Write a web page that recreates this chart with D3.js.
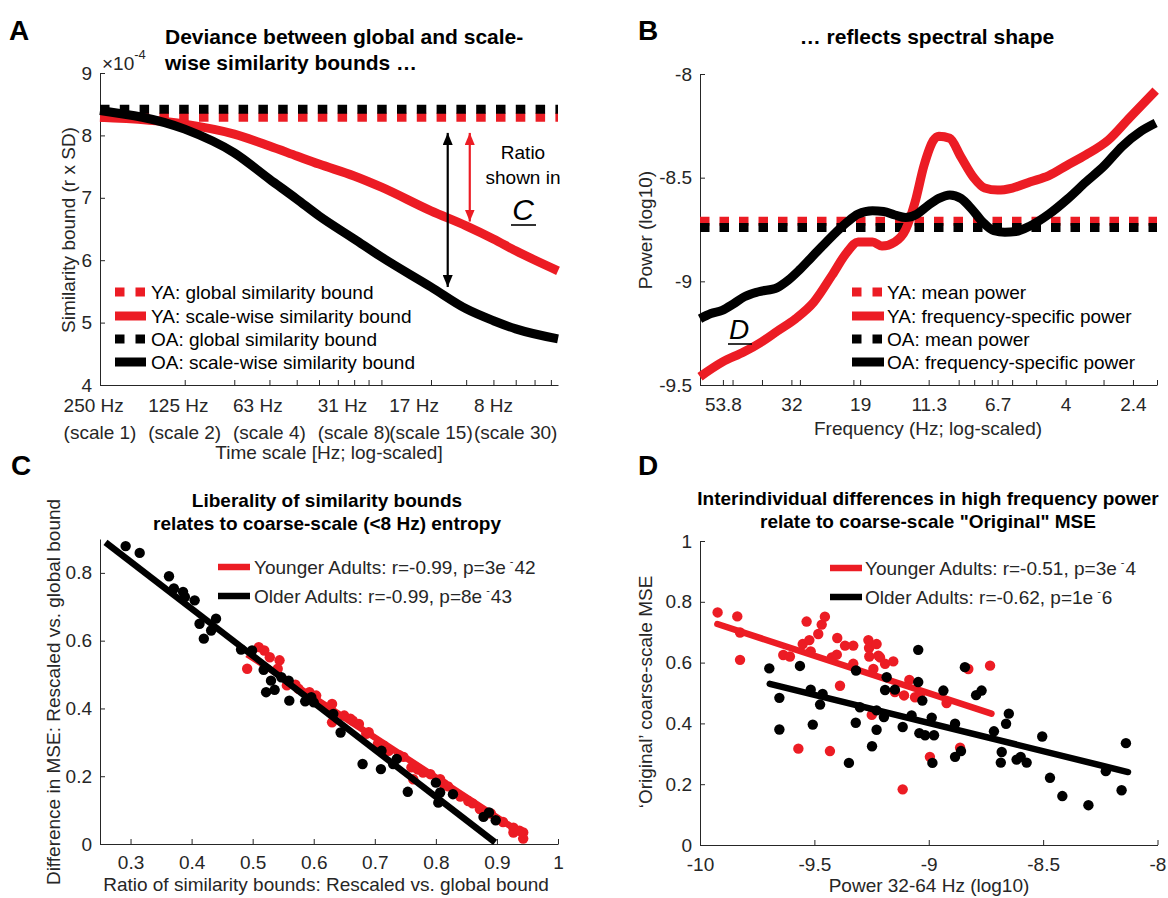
<!DOCTYPE html>
<html><head><meta charset="utf-8">
<script src="https://cdn.jsdelivr.net/npm/d3@7"></script>
<style>body{margin:0;background:#fff}svg{display:block}</style>
</head><body><svg id="c" width="1168" height="898"></svg>
<script>
// ---------------- DATA ----------------
// Panel A
const aScale   = [1, 2, 3, 4, 5, 6, 8, 10, 15, 20, 25, 30, 42.4];
const aBoundYA = [8.29, 8.18, 8.02, 7.83, 7.67, 7.54, 7.35, 7.17, 6.79, 6.55, 6.34, 6.15, 5.83];
const aBoundOA = [8.40, 8.10, 7.72, 7.30, 6.98, 6.71, 6.34, 6.05, 5.57, 5.22, 5.03, 4.90, 4.74];
const aGlobalYA = 8.29, aGlobalOA = 8.42;
const aTickScales = [1, 2, 4, 8, 15, 30];
const aTickHz = ["250 Hz", "125 Hz", "63 Hz", "31 Hz", "17 Hz", "8 Hz"];
const aTickScaleNames = ["(scale 1)", "(scale 2)", "(scale 4)", "(scale 8)", "(scale 15)", "(scale 30)"];
const aMinorScales = [3, 5, 6, 7, 9, 10, 20, 25, 35, 40];
const aYTicks = [4, 5, 6, 7, 8, 9];
const aArrowOA = {scale: 17.2, from: 8.04, to: 5.57};
const aArrowYA = {scale: 20.6, from: 8.04, to: 6.62};
const aLegend = ["YA: global similarity bound", "YA: scale-wise similarity bound", "OA: global similarity bound", "OA: scale-wise similarity bound"];

// Panel B
const bFreqYA = [64, 54.1, 45.8, 39.9, 35.6, 31.0, 27.0, 23.5, 21.0, 19.3, 17.3, 16.1, 14.6, 13.45, 12.54, 11.7, 10.9, 10.46, 9.63, 8.85, 8.03, 7.39, 6.70, 5.99, 5.22, 4.54, 3.95, 3.43, 2.90, 2.46, 2.02];
const bPowYA  = [-9.46, -9.39, -9.34, -9.29, -9.24, -9.18, -9.10, -8.97, -8.86, -8.81, -8.81, -8.83, -8.81, -8.75, -8.62, -8.44, -8.32, -8.30, -8.31, -8.40, -8.50, -8.55, -8.56, -8.55, -8.52, -8.49, -8.44, -8.39, -8.32, -8.21, -8.08];
const bFreqOA = [64, 58.9, 54.1, 49.8, 45.8, 41.0, 35.6, 32.8, 30.2, 27.7, 25.5, 22.8, 21.0, 19.3, 17.3, 15.9, 14.6, 13.45, 12.37, 11.39, 10.46, 9.63, 8.85, 8.14, 7.49, 6.89, 6.34, 5.83, 5.22, 4.54, 3.95, 3.43, 2.99, 2.60, 2.26, 2.02];
const bPowOA  = [-9.18, -9.155, -9.14, -9.11, -9.075, -9.05, -9.03, -8.995, -8.947, -8.89, -8.835, -8.763, -8.715, -8.676, -8.66, -8.663, -8.68, -8.692, -8.676, -8.636, -8.60, -8.583, -8.60, -8.652, -8.715, -8.756, -8.763, -8.76, -8.732, -8.676, -8.604, -8.521, -8.444, -8.348, -8.276, -8.236];
const bMeanYA = -8.71, bMeanOA = -8.74;
const bTickFreqs = [53.8, 32, 19, 11.3, 6.7, 4, 2.4];
const bMinorFreqs = [50, 40, 30, 20, 9, 8, 7, 6, 5, 3, 2];
const bYTicks = [-9.5, -9, -8.5, -8];
const bLegend = ["YA: mean power", "YA: frequency-specific power", "OA: mean power", "OA: frequency-specific power"];

// Panel C
const cRatioYA = [0.491, 0.51, 0.519, 0.528, 0.544, 0.541, 0.556, 0.57, 0.575, 0.593, 0.604, 0.618, 0.63, 0.63, 0.65, 0.66, 0.664, 0.674, 0.686, 0.69, 0.705, 0.715, 0.723, 0.74, 0.747, 0.76, 0.763, 0.77, 0.779, 0.791, 0.807, 0.813, 0.82, 0.84, 0.853, 0.86, 0.872, 0.89, 0.91, 0.927, 0.937, 0.943, 0.943, 0.927];
const cDiffYA  = [0.517, 0.581, 0.571, 0.551, 0.542, 0.517, 0.468, 0.47, 0.458, 0.448, 0.438, 0.403, 0.413, 0.359, 0.379, 0.37, 0.364, 0.354, 0.325, 0.33, 0.295, 0.29, 0.275, 0.262, 0.257, 0.226, 0.191, 0.22, 0.211, 0.206, 0.191, 0.177, 0.17, 0.14, 0.127, 0.12, 0.103, 0.09, 0.065, 0.048, 0.039, 0.034, 0.016, 0.034];
const cRatioOA = [0.292, 0.315, 0.363, 0.371, 0.386, 0.389, 0.405, 0.413, 0.42, 0.432, 0.44, 0.481, 0.499, 0.518, 0.522, 0.53, 0.536, 0.547, 0.559, 0.56, 0.586, 0.596, 0.6, 0.632, 0.644, 0.68, 0.71, 0.711, 0.73, 0.736, 0.754, 0.80, 0.804, 0.807, 0.828, 0.878, 0.887, 0.898];
const cDiffOA  = [0.879, 0.859, 0.790, 0.754, 0.744, 0.729, 0.719, 0.650, 0.606, 0.630, 0.665, 0.574, 0.571, 0.514, 0.448, 0.482, 0.455, 0.492, 0.482, 0.423, 0.421, 0.433, 0.418, 0.384, 0.329, 0.236, 0.221, 0.275, 0.236, 0.251, 0.154, 0.181, 0.122, 0.152, 0.147, 0.080, 0.093, 0.070];
const cFitYA = {x: [0.491, 0.945], y: [0.56, 0.026]};
const cFitOA = {x: [0.259, 0.897], y: [0.89, 0.005]};
const cXTicks = [0.3, 0.4, 0.5, 0.6, 0.7, 0.8, 0.9, 1];
const cYTicks = [0, 0.2, 0.4, 0.6, 0.8];
const cLegend = [["Younger Adults: r=-0.99, p=3e", "42"], ["Older Adults: r=-0.99, p=8e", "43"]];

// Panel D
const dPowYA = [-9.923, -9.837, -9.825, -9.825, -9.636, -9.607, -9.570, -9.551, -9.534, -9.522, -9.516, -9.483, -9.468, -9.454, -9.432, -9.424, -9.402, -9.400, -9.388, -9.366, -9.330, -9.330, -9.264, -9.261, -9.260, -9.249, -9.242, -9.228, -9.220, -9.213, -9.191, -9.155, -9.148, -9.114, -9.108, -9.085, -9.060, -9.038, -8.995, -8.922, -8.863, -8.827, -8.732];
const dMseYA = [0.765, 0.752, 0.699, 0.609, 0.625, 0.620, 0.317, 0.661, 0.735, 0.674, 0.637, 0.694, 0.725, 0.751, 0.309, 0.617, 0.626, 0.681, 0.524, 0.656, 0.656, 0.596, 0.674, 0.648, 0.620, 0.428, 0.579, 0.661, 0.623, 0.617, 0.596, 0.604, 0.503, 0.183, 0.492, 0.543, 0.486, 0.497, 0.290, 0.467, 0.320, 0.579, 0.590];
const dPowOA = [-9.697, -9.653, -9.653, -9.563, -9.516, -9.507, -9.475, -9.464, -9.349, -9.319, -9.318, -9.301, -9.248, -9.228, -9.228, -9.196, -9.191, -9.184, -9.148, -9.114, -9.075, -9.046, -9.046, -9.041, -9.028, -9.016, -8.987, -8.984, -8.977, -8.936, -8.885, -8.885, -8.859, -8.842, -8.793, -8.769, -8.715, -8.685, -8.681, -8.662, -8.650, -8.616, -8.598, -8.572, -8.504, -8.470, -8.416, -8.302, -8.226, -8.157, -8.138];
const dMseOA = [0.581, 0.484, 0.380, 0.589, 0.511, 0.396, 0.462, 0.497, 0.270, 0.402, 0.574, 0.453, 0.325, 0.379, 0.443, 0.421, 0.510, 0.552, 0.511, 0.388, 0.426, 0.642, 0.536, 0.368, 0.475, 0.361, 0.419, 0.270, 0.361, 0.508, 0.399, 0.290, 0.309, 0.585, 0.493, 0.508, 0.374, 0.271, 0.306, 0.399, 0.432, 0.281, 0.290, 0.271, 0.357, 0.221, 0.161, 0.131, 0.243, 0.180, 0.335];
const dFitYA = {x: [-9.924, -8.726], y: [0.727, 0.432]};
const dFitOA = {x: [-9.695, -8.129], y: [0.530, 0.240]};
const dXTicks = [-10, -9.5, -9, -8.5, -8];
const dYTicks = [0, 0.2, 0.4, 0.6, 0.8, 1];
const dLegend = [["Younger Adults: r=-0.51, p=3e", "4"], ["Older Adults: r=-0.62, p=1e", "6"]];

// ---------------- STYLE ----------------
const FF = '"Liberation Sans", Arial, Helvetica, sans-serif';
const RED = "#ec1c24", BLK = "#000000", AX = "#262626";
const FS = 19;

const svg = d3.select("#c");
svg.append("rect").attr("width", 1168).attr("height", 898).attr("fill", "#fff");
const defs = svg.append("defs");
function arrowMarker(id, color) {
  defs.append("marker").attr("id", id).attr("viewBox", "0 0 12 10")
    .attr("refX", 12).attr("refY", 5).attr("markerWidth", 12).attr("markerHeight", 10)
    .attr("markerUnits", "userSpaceOnUse").attr("orient", "auto-start-reverse")
    .append("path").attr("d", "M0,0L12,5L0,10z").attr("fill", color);
}
arrowMarker("arrK", BLK); arrowMarker("arrR", RED);

function styleAxis(g) {
  g.attr("font-family", null).attr("font-size", null);
  g.select(".domain").attr("stroke", AX).attr("stroke-width", 1);
  g.selectAll(".tick line").attr("stroke", AX);
  g.selectAll(".tick text").attr("fill", AX).style("font-size", FS + "px").style("font-family", FF);
}
function leftAxis(y, x0, ticks, fmt) {
  const g = svg.append("g").attr("transform", `translate(${x0},0)`)
    .call(d3.axisLeft(y).tickValues(ticks).tickFormat(fmt).tickSize(-5).tickSizeOuter(0).tickPadding(8));
  styleAxis(g); return g;
}
function bottomAxis(x, y0, ticks, fmt, pad) {
  const g = svg.append("g").attr("transform", `translate(0,${y0})`)
    .call(d3.axisBottom(x).tickValues(ticks).tickFormat(fmt).tickSize(-5).tickSizeOuter(0).tickPadding(pad));
  styleAxis(g); return g;
}
function txt(x, y, s, o = {}) {
  const t = svg.append("text").attr("x", x).attr("y", y).text(s)
    .attr("font-family", FF).attr("font-size", o.size || FS)
    .attr("fill", o.fill || AX).attr("text-anchor", o.anchor || "middle")
    .attr("dominant-baseline", "central");
  if (o.bold) t.attr("font-weight", "bold");
  if (o.italic) t.attr("font-style", "italic");
  if (o.rotate) t.attr("transform", `rotate(-90,${x},${y})`);
  return t;
}
function panelLetter(x, y, s) {
  svg.append("text").attr("x", x).attr("y", y).text(s).attr("font-family", FF)
    .attr("font-size", 28).attr("font-weight", "bold").attr("fill", "#000");
}
function legendLine(x1, x2, y, color, w, dashed) {
  const l = svg.append("line").attr("x1", x1).attr("x2", x2).attr("y1", y).attr("y2", y)
    .attr("stroke", color).attr("stroke-width", w);
  if (dashed) l.attr("stroke-dasharray", "9.5,11");
}
function legendSup(x, y, parts) {
  const t = svg.append("text").attr("x", x).attr("y", y).attr("font-family", FF)
    .attr("font-size", FS).attr("fill", AX).attr("dominant-baseline", "central");
  t.append("tspan").text(parts[0]);
  t.append("tspan").attr("dx", 4).attr("dy", -6).attr("font-size", 11).text("-");
  t.append("tspan").attr("dx", 1).attr("dy", 6).text(parts[1]);
}

// ---------------- PANEL A ----------------
const xA = d3.scaleLog().domain([1, 42.4]).range([100, 558]);
const yA = d3.scaleLinear().domain([4, 9]).range([385, 73]);
panelLetter(9, 40, "A");
txt(165, 36, "Deviance between global and scale-", {bold: true, size: 21, anchor: "start", fill: "#000"});
txt(165, 62, "wise similarity bounds \u2026", {bold: true, size: 21, anchor: "start", fill: "#000"});
const expT = svg.append("text").attr("x", 102).attr("y", 63).attr("font-family", FF).attr("font-size", FS)
  .attr("fill", AX).attr("dominant-baseline", "central");
expT.append("tspan").text("\u00d710");
expT.append("tspan").attr("dy", -9).attr("font-size", 13).text("-4");

leftAxis(yA, 100, aYTicks, d3.format("d"));
bottomAxis(xA, 385, aTickScales.concat(aMinorScales), () => "", 12);
// two-line tick labels, block centred on tick, lines left-aligned
aTickScales.forEach((s, i) => {
  const t2 = txt(0, 432, aTickScaleNames[i], {anchor: "start"});
  const w = t2.node().getComputedTextLength();
  const left = xA(s) - w / 2;
  t2.attr("x", left);
  txt(left, 405, aTickHz[i], {anchor: "start"});
});
txt(329, 452, "Time scale [Hz; log-scaled]");
txt(68, 230, "Similarity bound (r x SD)", {rotate: true});

const lineA = d3.line().curve(d3.curveMonotoneX);
svg.append("line").attr("x1", xA.range()[0]).attr("x2", xA.range()[1]).attr("y1", yA(aGlobalYA)).attr("y2", yA(aGlobalYA))
  .attr("stroke", RED).attr("stroke-width", 9).attr("stroke-dasharray", "9.5,10.3");
svg.append("line").attr("x1", xA.range()[0]).attr("x2", xA.range()[1]).attr("y1", yA(aGlobalOA)).attr("y2", yA(aGlobalOA))
  .attr("stroke", BLK).attr("stroke-width", 9).attr("stroke-dasharray", "9.5,10.3");
svg.append("path").attr("d", lineA(aScale.map((s, i) => [xA(s), yA(aBoundYA[i])])))
  .attr("fill", "none").attr("stroke", RED).attr("stroke-width", 9);
svg.append("path").attr("d", lineA(aScale.map((s, i) => [xA(s), yA(aBoundOA[i])])))
  .attr("fill", "none").attr("stroke", BLK).attr("stroke-width", 9);
// arrows
svg.append("line").attr("x1", xA(aArrowOA.scale)).attr("x2", xA(aArrowOA.scale))
  .attr("y1", yA(aArrowOA.from)).attr("y2", yA(aArrowOA.to)).attr("stroke", BLK).attr("stroke-width", 2.2)
  .attr("marker-start", "url(#arrK)").attr("marker-end", "url(#arrK)");
svg.append("line").attr("x1", xA(aArrowYA.scale)).attr("x2", xA(aArrowYA.scale))
  .attr("y1", yA(aArrowYA.from)).attr("y2", yA(aArrowYA.to)).attr("stroke", RED).attr("stroke-width", 2.2)
  .attr("marker-start", "url(#arrR)").attr("marker-end", "url(#arrR)");
txt(523, 152, "Ratio", {fill: "#000"});
txt(523, 177, "shown in", {fill: "#000"});
txt(523, 209, "C", {italic: true, size: 30, fill: "#000"});
svg.append("line").attr("x1", 511).attr("x2", 536).attr("y1", 225).attr("y2", 225).attr("stroke", "#000").attr("stroke-width", 1.6);
// legend A
const legY = [292, 316, 339, 362];
legendLine(115, 146, legY[0], RED, 9, true);
legendLine(115, 146, legY[1], RED, 9, false);
legendLine(115, 146, legY[2], BLK, 9, true);
legendLine(115, 146, legY[3], BLK, 9, false);
aLegend.forEach((s, i) => txt(151, legY[i], s, {anchor: "start", fill: "#000"}));

// ---------------- PANEL B ----------------
const xB = d3.scaleLog().domain([64, 2]).range([700, 1157]);
const yB = d3.scaleLinear().domain([-9.5, -8]).range([385, 74]);
panelLetter(638, 40, "B");
txt(927, 36, "\u2026 reflects spectral shape", {bold: true, size: 21, fill: "#000"});
leftAxis(yB, 700, bYTicks, d => String(d));
bottomAxis(xB, 385, bTickFreqs.concat(bMinorFreqs), d => bTickFreqs.includes(d) ? String(d) : "", 13);
txt(928, 428, "Frequency (Hz; log-scaled)");
txt(645, 230, "Power (log10)", {rotate: true});
svg.append("line").attr("x1", xB.range()[0]).attr("x2", xB.range()[1]).attr("y1", yB(bMeanYA)).attr("y2", yB(bMeanYA))
  .attr("stroke", RED).attr("stroke-width", 9).attr("stroke-dasharray", "9.5,10");
svg.append("line").attr("x1", xB.range()[0]).attr("x2", xB.range()[1]).attr("y1", yB(bMeanOA)).attr("y2", yB(bMeanOA))
  .attr("stroke", BLK).attr("stroke-width", 9).attr("stroke-dasharray", "9.5,10");
svg.append("path").attr("d", lineA(bFreqYA.map((f, i) => [xB(f), yB(bPowYA[i])])))
  .attr("fill", "none").attr("stroke", RED).attr("stroke-width", 9);
svg.append("path").attr("d", lineA(bFreqOA.map((f, i) => [xB(f), yB(bPowOA[i])])))
  .attr("fill", "none").attr("stroke", BLK).attr("stroke-width", 9);
txt(739, 329, "D", {italic: true, size: 28, fill: "#000"});
svg.append("line").attr("x1", 728).attr("x2", 752).attr("y1", 344).attr("y2", 344).attr("stroke", "#000").attr("stroke-width", 1.6);
legendLine(852, 884, legY[0], RED, 9, true);
legendLine(852, 884, legY[1], RED, 9, false);
legendLine(852, 884, legY[2], BLK, 9, true);
legendLine(852, 884, legY[3], BLK, 9, false);
bLegend.forEach((s, i) => txt(887, legY[i], s, {anchor: "start", fill: "#000"}));

// ---------------- PANEL C ----------------
const xC = d3.scaleLinear().domain([0.25, 1]).range([100, 558]);
const yC = d3.scaleLinear().domain([0, 0.9]).range([844, 539]);
panelLetter(11, 475, "C");
txt(327, 500, "Liberality of similarity bounds", {bold: true, fill: "#000"});
txt(327, 523, "relates to coarse-scale (<8 Hz) entropy", {bold: true, fill: "#000"});
leftAxis(yC, 100, cYTicks, d => String(d));
bottomAxis(xC, 844, cXTicks, d => String(d), 12);
txt(326, 884, "Ratio of similarity bounds: Rescaled vs. global bound");
txt(53, 692, "Difference in MSE: Rescaled vs. global bound", {rotate: true});
svg.append("g").selectAll("circle").data(cRatioYA).join("circle")
  .attr("cx", d => xC(d)).attr("cy", (d, i) => yC(cDiffYA[i])).attr("r", 5.2).attr("fill", RED);
svg.append("line").attr("x1", xC(cFitYA.x[0])).attr("x2", xC(cFitYA.x[1])).attr("y1", yC(cFitYA.y[0])).attr("y2", yC(cFitYA.y[1]))
  .attr("stroke", RED).attr("stroke-width", 6.5);
svg.append("g").selectAll("circle").data(cRatioOA).join("circle")
  .attr("cx", d => xC(d)).attr("cy", (d, i) => yC(cDiffOA[i])).attr("r", 5.2).attr("fill", BLK);
svg.append("line").attr("x1", xC(cFitOA.x[0])).attr("x2", xC(cFitOA.x[1])).attr("y1", yC(cFitOA.y[0])).attr("y2", yC(cFitOA.y[1]))
  .attr("stroke", BLK).attr("stroke-width", 6.5);
legendLine(218, 250, 567, RED, 6.5, false);
legendLine(218, 250, 596, BLK, 6.5, false);
legendSup(254, 567, cLegend[0]);
legendSup(254, 596, cLegend[1]);

// ---------------- PANEL D ----------------
const xD = d3.scaleLinear().domain([-10, -8]).range([700, 1157.5]);
const yD = d3.scaleLinear().domain([0, 1]).range([845, 541]);
panelLetter(638, 475, "D");
txt(928, 498, "Interindividual differences in high frequency power", {bold: true, fill: "#000"});
txt(928, 521, "relate to coarse-scale \"Original\" MSE", {bold: true, fill: "#000"});
leftAxis(yD, 700, dYTicks, d => String(d));
bottomAxis(xD, 845, dXTicks, d => String(d), 13);
txt(929, 885, "Power 32-64 Hz (log10)");
txt(645, 692, "\u2018Original\u2019 coarse-scale MSE", {rotate: true});
svg.append("g").selectAll("circle").data(dPowYA).join("circle")
  .attr("cx", d => xD(d)).attr("cy", (d, i) => yD(dMseYA[i])).attr("r", 5.2).attr("fill", RED);
svg.append("line").attr("x1", xD(dFitYA.x[0])).attr("x2", xD(dFitYA.x[1])).attr("y1", yD(dFitYA.y[0])).attr("y2", yD(dFitYA.y[1]))
  .attr("stroke", RED).attr("stroke-width", 6.5).attr("stroke-linecap", "round");
svg.append("g").selectAll("circle").data(dPowOA).join("circle")
  .attr("cx", d => xD(d)).attr("cy", (d, i) => yD(dMseOA[i])).attr("r", 5.2).attr("fill", BLK);
svg.append("line").attr("x1", xD(dFitOA.x[0])).attr("x2", xD(dFitOA.x[1])).attr("y1", yD(dFitOA.y[0])).attr("y2", yD(dFitOA.y[1]))
  .attr("stroke", BLK).attr("stroke-width", 6.5).attr("stroke-linecap", "round");
legendLine(830, 862, 568, RED, 6.5, false);
legendLine(830, 862, 597, BLK, 6.5, false);
legendSup(865, 568, dLegend[0]);
legendSup(865, 597, dLegend[1]);
</script></body></html>
